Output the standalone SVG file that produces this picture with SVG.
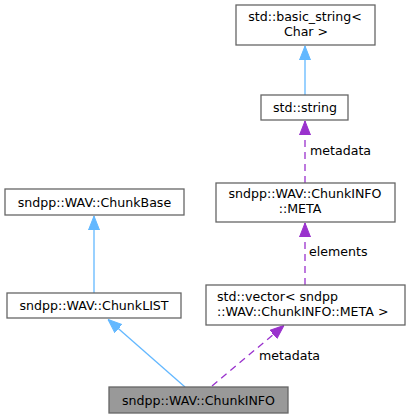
<svg xmlns="http://www.w3.org/2000/svg" width="410" height="419" viewBox="0 0 410 419">
<style>
.n rect{fill:#ffffff;stroke:#666666;stroke-width:1.3}
.n.cur rect{fill:#999999}
text{font-family:"DejaVu Sans",sans-serif;font-size:12.6px;fill:#000000}
.c{text-anchor:middle}
.inh{fill:none;stroke:#63b8ff;stroke-width:1.3;marker-end:url(#ab)}
.use{fill:none;stroke:#9a32cd;stroke-width:1.3;stroke-dasharray:7,5;marker-end:url(#ap)}
</style>
<defs>
<marker id="ab" markerUnits="userSpaceOnUse" viewBox="0 0 14 12" refX="14" refY="6" markerWidth="14" markerHeight="12" orient="auto"><path d="M0,0.5 L14,6 L0,11.5 z" fill="#63b8ff" stroke="#63b8ff"/></marker>
<marker id="ap" markerUnits="userSpaceOnUse" viewBox="0 0 14 12" refX="14" refY="6" markerWidth="14" markerHeight="12" orient="auto"><path d="M0,0.5 L14,6 L0,11.5 z" fill="#9a32cd" stroke="#9a32cd"/></marker>
</defs>
<g id="edges">
<path class="inh" d="M305,95 L305,46"/>
<path class="use" d="M305,183 L305,121"/>
<text x="310" y="155">metadata</text>
<path class="use" d="M305,285 L305,223"/>
<text x="309" y="256">elements</text>
<path class="inh" d="M94,293 L94,216"/>
<path class="inh" d="M185,387 L108,319.5"/>
<path class="use" d="M212,386 L284,325.5"/>
<text x="259" y="360">metadata</text>
</g>
<g id="node_basic_string" class="n"><rect x="236" y="5" width="139" height="40"/><text class="c" x="305" y="21">std::basic_string&lt;</text><text class="c" x="306" y="36">Char &gt;</text></g>
<g id="node_string" class="n"><rect x="261" y="95" width="87" height="25"/><text class="c" x="305" y="112">std::string</text></g>
<g id="node_meta" class="n"><rect x="216" y="183" width="179" height="39"/><text class="c" x="305" y="197.5">sndpp::WAV::ChunkINFO</text><text class="c" x="300" y="212.5">::META</text></g>
<g id="node_vector" class="n"><rect x="206" y="285" width="199" height="40"/><text x="217" y="300.5">std::vector&lt; sndpp</text><text x="217" y="315.5">::WAV::ChunkINFO::META &gt;</text></g>
<g id="node_chunkbase" class="n"><rect x="5" y="189" width="179" height="26"/><text class="c" x="94.5" y="206.5">sndpp::WAV::ChunkBase</text></g>
<g id="node_chunklist" class="n"><rect x="7" y="293" width="174" height="25"/><text class="c" x="94" y="310">sndpp::WAV::ChunkLIST</text></g>
<g id="node_chunkinfo" class="n cur"><rect x="109" y="387" width="179" height="26"/><text class="c" x="198.5" y="404.5">sndpp::WAV::ChunkINFO</text></g>
</svg>
